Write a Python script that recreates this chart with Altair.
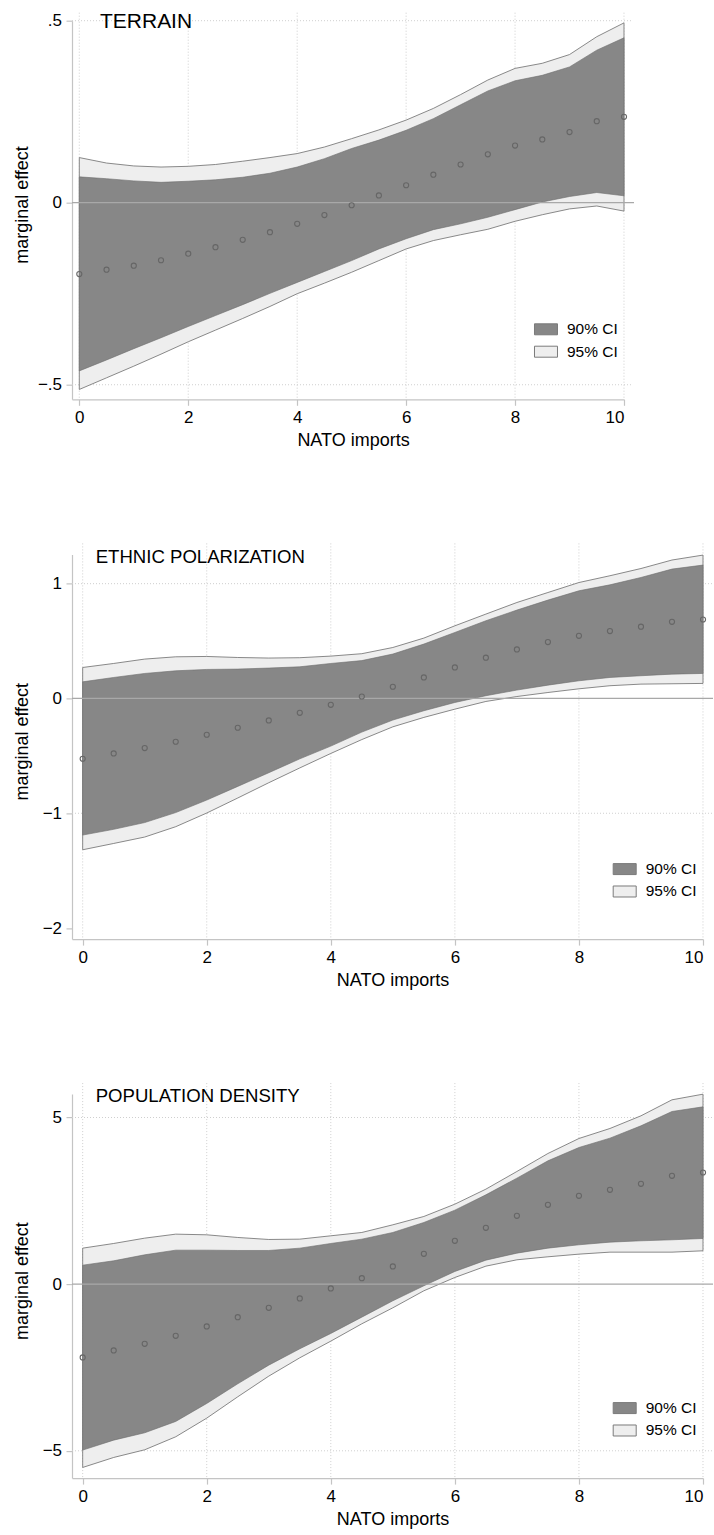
import altair as alt
import pandas as pd

FONT = "Liberation Sans"

# NATO imports grid at which the marginal effects were evaluated
nato_imports = [0, 0.5, 1, 1.5, 2, 2.5, 3, 3.5, 4, 4.5, 5,
                5.5, 6, 6.5, 7, 7.5, 8, 8.5, 9, 9.5, 10]

# --- TERRAIN -------------------------------------------------------------
terrain_est = [-0.196, -0.184, -0.173, -0.158, -0.140, -0.122, -0.102, -0.081,
               -0.058, -0.034, -0.007, 0.020, 0.048, 0.077, 0.105, 0.133,
               0.157, 0.174, 0.194, 0.224, 0.236]
terrain_hi90 = [0.071, 0.066, 0.060, 0.056, 0.059, 0.063, 0.070, 0.081, 0.098,
                0.121, 0.149, 0.172, 0.199, 0.231, 0.269, 0.307, 0.335, 0.350,
                0.373, 0.419, 0.453]
terrain_lo90 = [-0.462, -0.432, -0.401, -0.371, -0.340, -0.310, -0.280, -0.249,
                -0.219, -0.189, -0.159, -0.127, -0.099, -0.074, -0.058, -0.040,
                -0.019, 0.002, 0.017, 0.028, 0.019]
terrain_hi95 = [0.124, 0.109, 0.101, 0.098, 0.100, 0.105, 0.114, 0.124, 0.135,
                0.153, 0.176, 0.200, 0.227, 0.259, 0.297, 0.337, 0.369, 0.383,
                0.407, 0.456, 0.494]
terrain_lo95 = [-0.513, -0.481, -0.449, -0.416, -0.382, -0.350, -0.318, -0.285,
                -0.250, -0.221, -0.191, -0.159, -0.127, -0.104, -0.088, -0.073,
                -0.051, -0.033, -0.017, -0.009, -0.023]

# --- ETHNIC POLARIZATION ---------------------------------------------------
ethnic_est = [-0.525, -0.479, -0.432, -0.377, -0.316, -0.255, -0.191, -0.125,
              -0.055, 0.017, 0.102, 0.183, 0.270, 0.355, 0.427, 0.491, 0.546,
              0.587, 0.625, 0.668, 0.688]
ethnic_hi90 = [0.145, 0.183, 0.218, 0.241, 0.253, 0.256, 0.265, 0.276, 0.305,
               0.330, 0.387, 0.474, 0.575, 0.677, 0.770, 0.857, 0.938, 0.990,
               1.054, 1.127, 1.162]
ethnic_lo90 = [-1.190, -1.140, -1.081, -0.994, -0.885, -0.766, -0.647, -0.526,
               -0.415, -0.293, -0.188, -0.107, -0.035, 0.024, 0.073, 0.116,
               0.154, 0.183, 0.198, 0.212, 0.218]
ethnic_hi95 = [0.270, 0.305, 0.343, 0.363, 0.366, 0.357, 0.352, 0.355, 0.369,
               0.390, 0.444, 0.526, 0.633, 0.735, 0.836, 0.923, 1.010, 1.069,
               1.132, 1.206, 1.249]
ethnic_lo95 = [-1.318, -1.263, -1.207, -1.117, -0.998, -0.867, -0.734, -0.605,
               -0.479, -0.358, -0.247, -0.165, -0.093, -0.026, 0.017, 0.052,
               0.084, 0.111, 0.125, 0.128, 0.131]

# --- POPULATION DENSITY ----------------------------------------------------
popdens_est = [-2.20, -1.99, -1.79, -1.55, -1.27, -0.99, -0.71, -0.43, -0.13,
               0.18, 0.53, 0.91, 1.30, 1.69, 2.05, 2.38, 2.65, 2.83, 3.01,
               3.25, 3.35]
popdens_hi90 = [0.57, 0.70, 0.88, 1.02, 1.02, 1.01, 1.01, 1.08, 1.22, 1.35,
                1.55, 1.85, 2.22, 2.68, 3.18, 3.70, 4.10, 4.38, 4.75, 5.18, 5.32]
popdens_lo90 = [-4.98, -4.68, -4.46, -4.12, -3.58, -2.99, -2.43, -1.94, -1.48,
                -0.99, -0.50, -0.05, 0.38, 0.72, 0.93, 1.08, 1.18, 1.26, 1.30,
                1.33, 1.37]
popdens_hi95 = [1.08, 1.22, 1.38, 1.50, 1.48, 1.40, 1.34, 1.35, 1.45, 1.55,
                1.78, 2.03, 2.40, 2.85, 3.38, 3.92, 4.37, 4.67, 5.05, 5.53, 5.70]
popdens_lo95 = [-5.50, -5.20, -4.97, -4.58, -4.02, -3.38, -2.76, -2.21, -1.71,
                -1.19, -0.71, -0.20, 0.20, 0.54, 0.73, 0.82, 0.90, 0.96, 0.96,
                0.96, 1.00]

x_ticks = [0, 2, 4, 6, 8, 10]
band_names = ["90% CI", "95% CI"]
band_fills = ["#878787", "#eeeeee"]

AXIS_GREY = "#c4c4c4"
GRID_GREY = "#cfcfcf"
OUTLINE = "#6c6c6c"

# Stata-style tick labels: ".5", "−.5", "0"
Y_LABELS = "datum.value == 0 ? '0' : replace(datum.label, '0.', '.')"


def panel(name, est, lo90, hi90, lo95, hi95, *, width, height, x_domain,
          y_domain, y_ticks, grid_y, title_size, title_dx, title_dy,
          grid_rise, legend_x, legend_y):
    df = pd.DataFrame({"x": nato_imports, "est": est, "lo90": lo90,
                       "hi90": hi90, "lo95": lo95, "hi95": hi95})

    x_axis = alt.Axis(values=x_ticks, title="NATO imports", grid=False,
                      tickSize=6, labelPadding=12.4, labelBaseline="middle",
                      labelFontSize=17, titleFontSize=18, titleFontWeight="normal",
                      titleBaseline="middle", titleY=41.7, titleX=(width + 10) / 2,
                      titleAnchor="start", titleAlign="center")
    y_axis = alt.Axis(values=y_ticks, title="marginal effect", grid=False,
                      tickSize=6, labelPadding=4.5, labelFontSize=17,
                      labelExpr=Y_LABELS,
                      titleFontSize=18, titleFontWeight="normal",
                      titleAngle=270, titleBaseline="middle", titleX=-50,
                      titleY=(height - 11) / 2, titleAlign="center")

    xs = alt.Scale(domain=x_domain, nice=False, zero=False)
    ys = alt.Scale(domain=y_domain, nice=False, zero=False)
    X = alt.X("x:Q", scale=xs, axis=x_axis)

    color_scale = alt.Scale(domain=band_names, range=band_fills)
    legend = alt.Legend(orient="none", legendX=legend_x, legendY=legend_y,
                        title=None, symbolType="M-1,-0.478H1V0.478H-1Z",
                        symbolSize=529, symbolStrokeColor="#7a7a7a",
                        symbolStrokeWidth=1, symbolOpacity=1,
                        labelFont=FONT, labelFontSize=15.5, labelColor="#000",
                        labelOffset=9, rowPadding=1.4, padding=0)

    base = alt.Chart(df)

    vgrid = alt.Chart(pd.DataFrame({"x": x_ticks})).mark_rule(
        color=GRID_GREY, strokeDash=[1, 2], strokeWidth=1
    ).encode(x=X, y=alt.value(-grid_rise), y2=alt.value(height))

    hgrid = alt.Chart(pd.DataFrame({"est": grid_y})).mark_rule(
        color=GRID_GREY, strokeDash=[1, 2], strokeWidth=1
    ).encode(y=alt.Y("est:Q", scale=ys, axis=y_axis),
             x=alt.value(0), x2=alt.value(width + 9))

    ci95 = base.transform_calculate(band="'95% CI'").mark_area(
        stroke=OUTLINE, strokeWidth=0.8, opacity=1
    ).encode(x=X, y=alt.Y("lo95:Q", scale=ys, axis=y_axis), y2="hi95:Q",
             fill=alt.Fill("band:N", scale=color_scale, legend=legend))

    ci90 = base.transform_calculate(band="'90% CI'").mark_area(
        stroke=OUTLINE, strokeWidth=0.6, opacity=1
    ).encode(x=X, y=alt.Y("lo90:Q", scale=ys, axis=y_axis), y2="hi90:Q",
             fill=alt.Fill("band:N", scale=color_scale, legend=legend))

    zero = alt.Chart(pd.DataFrame({"est": [0]})).mark_rule(
        color="#a8a8a8", strokeWidth=1.2
    ).encode(y=alt.Y("est:Q", scale=ys, axis=y_axis),
             x=alt.value(0), x2=alt.value(width + 10))

    pts = base.mark_point(shape="circle", filled=False, size=26,
                          color="#666666", strokeWidth=1.1, opacity=1).encode(
        x=X, y=alt.Y("est:Q", scale=ys, axis=y_axis))

    label = alt.Chart(pd.DataFrame({"t": [name]})).mark_text(
        align="left", baseline="alphabetic", font=FONT,
        fontSize=title_size, color="#000"
    ).encode(text="t:N", x=alt.value(title_dx), y=alt.value(title_dy))

    return alt.layer(vgrid, hgrid, ci95, ci90, zero, pts, label).properties(
        width=width, height=height)


terrain = panel("TERRAIN", terrain_est, terrain_lo90, terrain_hi90,
                terrain_lo95, terrain_hi95,
                width=552, height=378.6, x_domain=[-0.134, 10],
                y_domain=[-0.540, 0.5], y_ticks=[-0.5, 0, 0.5],
                grid_y=[-0.5, 0.5], title_size=21, title_dx=28, title_dy=7,
                grid_rise=8, legend_x=462, legend_y=296.6)

ethnic = panel("ETHNIC POLARIZATION", ethnic_est, ethnic_lo90, ethnic_hi90,
               ethnic_lo95, ethnic_hi95,
               width=631, height=384.7, x_domain=[-0.172, 10],
               y_domain=[-2.096, 1.255], y_ticks=[-2, -1, 0, 1],
               grid_y=[-1, 1], title_size=18.6, title_dx=23.7, title_dy=8.3,
               grid_rise=11, legend_x=540.7, legend_y=302.7)

popdens = panel("POPULATION DENSITY", popdens_est, popdens_lo90, popdens_hi90,
                popdens_lo95, popdens_hi95,
                width=631, height=384, x_domain=[-0.172, 10],
                y_domain=[-5.819, 5.702], y_ticks=[-5, 0, 5],
                grid_y=[-5, 5], title_size=18.6, title_dx=23.7, title_dy=7.7,
                grid_rise=11, legend_x=540.7, legend_y=302.0)

chart = alt.vconcat(terrain, ethnic, popdens, spacing=154.7,
                    bounds="flush").resolve_scale(
    x="independent", y="independent", fill="independent"
).resolve_legend(fill="independent").properties(
    padding={"left": 13, "top": 10.7, "right": 0, "bottom": 5},
    background="white"
).configure_view(stroke=None).configure_axis(
    domainColor=AXIS_GREY, tickColor=AXIS_GREY, domainWidth=1.2, tickWidth=1.2,
    labelFont=FONT, titleFont=FONT, labelColor="#000", titleColor="#000"
)

chart.save("out.html", embed_options={"renderer": "svg", "actions": False})
